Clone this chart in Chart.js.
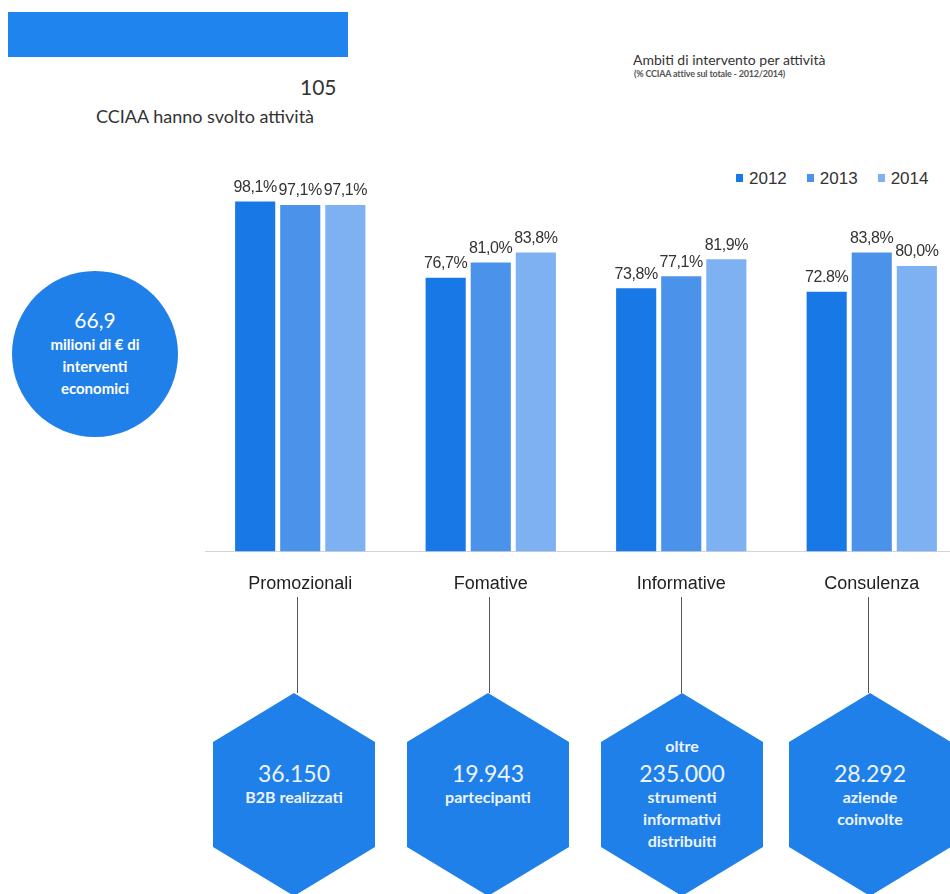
<!DOCTYPE html>
<html lang="it">
<head>
<meta charset="utf-8">
<title>Ambiti di intervento per attività</title>
<script src="https://cdn.jsdelivr.net/npm/chart.js@4/dist/chart.umd.min.js"></script>
<style>
  html, body { margin: 0; padding: 0; background: #fff; }
  body { width: 950px; height: 894px; position: relative; overflow: hidden; font-family: Lato, "Open Sans", sans-serif; }
  .abs { position: absolute; }
  #banner { left: 8px; top: 12px; width: 340px; height: 45px; background: #1f84ee; }
  #total { left: 300px; top: 74px; font-size: 21px; color: #333; }
  #totalNote { left: 96px; top: 105px; font-size: 18px; color: #333; white-space: nowrap; }
  #title { left: 633px; top: 51px; font-size: 14px; color: #333; white-space: nowrap; }
  #subtitle { left: 634px; top: 68px; font-size: 9px; font-weight: bold; color: #555; white-space: nowrap; letter-spacing: -0.2px; }
  #budget { left: 12px; top: 271px; width: 166px; height: 166px; border-radius: 50%; background: #1f80ea;
            color: #fff; text-align: center; font-weight: bold; }
  #budget .big { position: absolute; left: 0; right: 0; top: 36px; font-size: 21px; font-weight: normal; }
  #budget .small { position: absolute; left: 0; right: 0; top: 62px; font-size: 15px; line-height: 22px; }
  #legend { left: 736px; top: 169px; font-family: "Liberation Sans", Arial, sans-serif; font-size: 17px; color: #333; white-space: nowrap; }
  #legend span { display: inline-block; margin-right: 20px; }
  #legend i { display: inline-block; width: 7px; height: 8px; margin-right: 6px; vertical-align: 2px; }
  #chartWrap { left: 205px; top: 159px; width: 762px; height: 450px; }
  .stem { width: 1px; top: 597px; height: 96px; background: #555; }
  .hex { width: 162px; height: 203px; top: 693px; background: #1f80ea;
         clip-path: polygon(50% 0, 100% 49px, 100% 154px, 50% 100%, 0 154px, 0 49px); }
  .hexText { width: 162px; text-align: center; color: #eef4ff; font-weight: bold; }
  .hexText .pre { font-size: 16px; line-height: 28px; }
  .hexText .num { font-size: 23px; line-height: 26px; font-weight: normal; }
  .hexText .post { font-size: 16px; line-height: 22px; }
</style>
</head>
<body>
<div id="banner" class="abs"></div>
<div id="total" class="abs">105</div>
<div id="totalNote" class="abs">CCIAA hanno svolto attività</div>
<div id="title" class="abs">Ambiti di intervento per attività</div>
<div id="subtitle" class="abs">(% CCIAA attive sul totale - 2012/2014)</div>
<div id="budget" class="abs">
  <div class="big">66,9</div>
  <div class="small">milioni di € di<br>interventi<br>economici</div>
</div>
<div id="legend" class="abs"></div>
<div id="chartWrap" class="abs"><canvas id="ambitiChart"></canvas></div>

<script>
// activity areas and share of active chambers (%) per year
const categories = ['Promozionali', 'Fomative', 'Informative', 'Consulenza'];
const years = ['2012', '2013', '2014'];
const values2012 = [98.1, 76.7, 73.8, 72.8];
const values2013 = [97.1, 81.0, 77.1, 83.8];
const values2014 = [97.1, 83.8, 81.9, 80.0];
const yearColors = ['#1878e6', '#4b93ea', '#7db1f1'];

// result boxes under each activity
const hexPre = [[], [], ['oltre'], []];
const hexNumbers = ['36.150', '19.943', '235.000', '28.292'];
const hexPost = [['B2B realizzati'], ['partecipanti'], ['strumenti', 'informativi', 'distribuiti'], ['aziende', 'coinvolte']];
const hexCenters = [294, 488, 682, 870];
const stemX = [297, 489, 681, 868];

// one point in the source labels uses a dot instead of a comma
const dotPoints = ['2012:3'];

function pctLabel(v, year, i) {
  const s = v.toFixed(1);
  return (dotPoints.includes(year + ':' + i) ? s : s.replace('.', ',')) + '%';
}

// value labels above each bar
const barLabels = {
  id: 'barLabels',
  afterDatasetsDraw(chart) {
    const ctx = chart.ctx;
    ctx.save();
    ctx.font = '16px "Liberation Sans", Arial, sans-serif';
    ctx.letterSpacing = '-0.4px';
    ctx.fillStyle = '#333';
    ctx.textAlign = 'center';
    ctx.textBaseline = 'middle';
    chart.data.datasets.forEach((ds, d) => {
      chart.getDatasetMeta(d).data.forEach((bar, i) => {
        ctx.fillText(pctLabel(ds.data[i], ds.label, i), bar.x, bar.y - 14);
      });
    });
    ctx.restore();
  }
};

new Chart(document.getElementById('ambitiChart'), {
  type: 'bar',
  data: {
    labels: categories,
    datasets: [values2012, values2013, values2014].map((vals, k) => ({
      label: years[k], data: vals, backgroundColor: yearColors[k],
      categoryPercentage: 0.71, barPercentage: 0.89
    }))
  },
  options: {
    responsive: true,
    maintainAspectRatio: false,
    animation: false,
    layout: { padding: 0 },
    scales: {
      y: { display: false, min: 0, max: 110 },
      x: {
        grid: { display: false },
        border: { display: true, color: '#d4d4d4', width: 1 },
        ticks: { color: '#222', padding: 14, font: { family: '"Liberation Sans", Arial, sans-serif', size: 18 } }
      }
    },
    plugins: { legend: { display: false }, tooltip: { enabled: false } }
  },
  plugins: [barLabels]
});

// legend
const legend = document.getElementById('legend');
years.forEach((y, k) => {
  legend.insertAdjacentHTML('beforeend', '<span><i style="background:' + yearColors[k] + '"></i>' + y + '</span>');
});

// stems and hexagons
categories.forEach((c, i) => {
  document.body.insertAdjacentHTML('beforeend', '<div class="abs stem" style="left:' + stemX[i] + 'px"></div>');
  const left = hexCenters[i] - 81;
  document.body.insertAdjacentHTML('beforeend', '<div class="abs hex" style="left:' + left + 'px"></div>');
  const top = 760 - hexPre[i].length * 28;
  let html = hexPre[i].map(t => '<div class="pre">' + t + '</div>').join('');
  html += '<div class="num">' + hexNumbers[i] + '</div>';
  html += hexPost[i].map(t => '<div class="post">' + t + '</div>').join('');
  document.body.insertAdjacentHTML('beforeend', '<div class="abs hexText" style="left:' + left + 'px;top:' + top + 'px">' + html + '</div>');
});
</script>
</body>
</html>
